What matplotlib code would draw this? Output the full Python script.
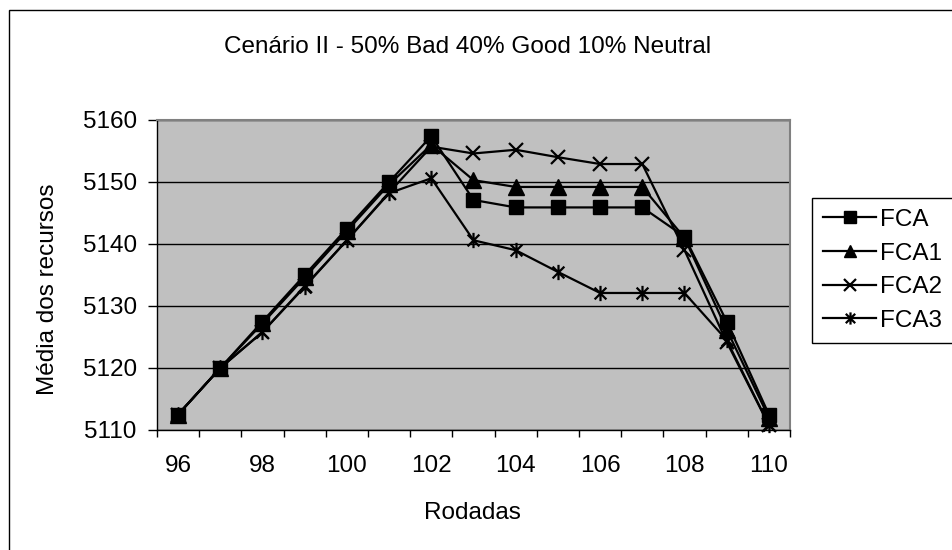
'''Cenario II line chart, Excel style.'''
import matplotlib.pyplot as plt
import matplotlib.patches as patches
from matplotlib.path import Path
from matplotlib.ticker import FixedLocator

plt.rcParams['font.family'] = ['Liberation Sans', 'DejaVu Sans']

rodadas = list(range(96, 111))
fca = [5112.5, 5120, 5127.5, 5135, 5142.5, 5150, 5157.4, 5147.1, 5145.9,
	5145.9, 5145.9, 5145.9, 5141.2, 5127.5, 5112.5]
fca1 = [5112.5, 5120, 5127.2, 5134.6, 5142.1, 5149.6, 5156.0, 5150.3, 5149.2,
	5149.2, 5149.2, 5149.2, 5141.0, 5126.2, 5112.0]
fca2 = [5112.5, 5120, 5125.8, 5133.2, 5140.6, 5148.3, 5155.7, 5154.6, 5155.2,
	5154.0, 5152.9, 5152.9, 5139.0, 5124.2, 5110.8]
fca3 = [5112.5, 5120, 5125.8, 5133.1, 5140.6, 5148.2, 5150.6, 5140.6, 5139.0,
	5135.5, 5132.1, 5132.1, 5132.1, 5124.5, 5110.8]
series = ['FCA', 'FCA1', 'FCA2', 'FCA3']
yticks = [5110, 5120, 5130, 5140, 5150, 5160]

# excel style asterisk: an x plus a vertical bar
asterisk = Path(
	[(-1, -1), (1, 1), (-1, 1), (1, -1), (0, -1.3), (0, 1.3)],
	[Path.MOVETO, Path.LINETO, Path.MOVETO, Path.LINETO, Path.MOVETO, Path.LINETO])

styles = [
	dict(marker='s', markersize=10.5),
	dict(marker='^', markersize=11),
	dict(marker='x', markersize=10.5, markeredgewidth=1.6),
	dict(marker=asterisk, markersize=11, markeredgewidth=1.6, markerfacecolor='none'),
]

W, H = 953, 550
FS = 17.5
fig = plt.figure(figsize=(W / 100, H / 100), dpi=100)

# outer chart border (clipped at right and bottom like the source)
fig.patches.append(patches.Rectangle(
	(9 / W, -0.1), 1.2, 1.1 - 10 / H, transform=fig.transFigure,
	fill=False, edgecolor='black', linewidth=1.0))

ax = fig.add_axes([157 / W, 1 - 430 / H, (790 - 157) / W, (430 - 120) / H])
ax.set_facecolor('#C0C0C0')

xs = list(range(len(rodadas)))
for name, vals, st in zip(series, [fca, fca1, fca2, fca3], styles):
	ax.plot(xs, vals, color='black', linewidth=1.6, label=name,
		markeredgecolor='black', markerfacecolor=st.pop('markerfacecolor', 'black'),
		clip_on=False, **st)

ax.set_xlim(-0.5, len(rodadas) - 0.5)
ax.set_ylim(5110, 5160)
ax.set_yticks(yticks)
ax.set_yticklabels([str(v) for v in yticks])
ax.yaxis.grid(True, color='black', linewidth=1.0)
ax.set_axisbelow(True)

ax.set_xticks(xs[::2])
ax.set_xticklabels([str(r) for r in rodadas[::2]])
ax.xaxis.set_minor_locator(FixedLocator([i - 0.5 for i in range(len(rodadas) + 1)]))
ax.tick_params(axis='x', which='major', length=0, pad=18, labelsize=FS)
ax.tick_params(axis='x', which='minor', length=5, width=1, direction='out')
ax.tick_params(axis='y', which='major', length=6.5, width=1, direction='out', pad=8,
	labelsize=FS)

for side in ('top', 'right'):
	ax.spines[side].set_color('#808080')
	ax.spines[side].set_linewidth(1.5)
for side in ('left', 'bottom'):
	ax.spines[side].set_color('black')
	ax.spines[side].set_linewidth(1.0)

fig.text(468 / W, 1 - 47 / H, 'Cenário II - 50% Bad 40% Good 10% Neutral',
	ha='center', va='center', fontsize=FS)
fig.text(472 / W, 1 - 513 / H, 'Rodadas', ha='center', va='center', fontsize=FS)
fig.text(48 / W, 1 - 289 / H, 'Média dos recursos', ha='center', va='center',
	rotation=90, fontsize=FS)

leg = fig.legend(loc='upper left', bbox_to_anchor=(812 / W, 1 - 198 / H),
	fancybox=False, edgecolor='black', framealpha=1, fontsize=FS,
	handlelength=2.2, handletextpad=0.15, borderpad=0.45, labelspacing=0.48,
	borderaxespad=0, markerscale=0.8)
leg.get_frame().set_linewidth(1.0)

fig.savefig('out.png', dpi=100)
